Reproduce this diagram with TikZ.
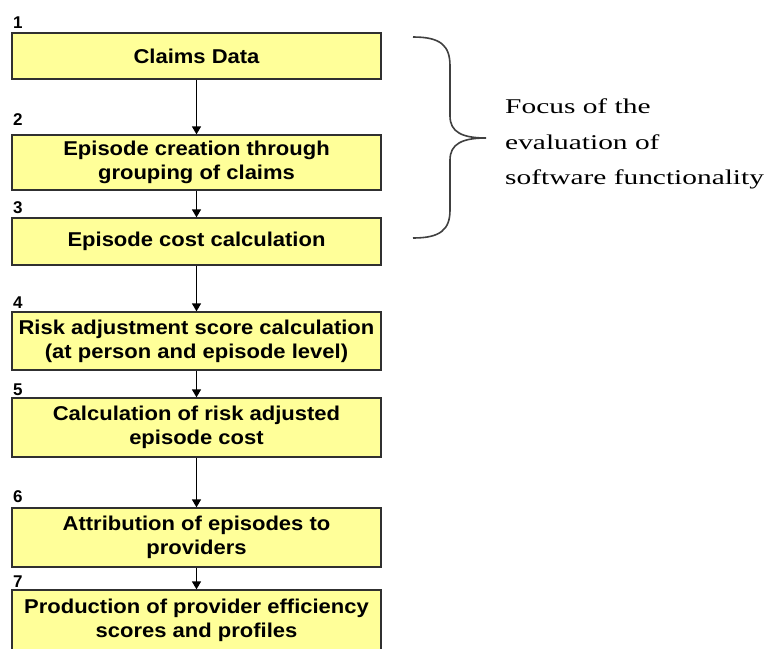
\documentclass[tikz,border=0pt]{standalone}
\usepackage{fontspec}
\setmainfont{Liberation Sans}
\newfontfamily\boxfont[FakeStretch=1.1]{Liberation Sans}
\newfontfamily\notefont[FakeStretch=1.4]{Liberation Serif}
\usetikzlibrary{arrows.meta}
\definecolor{boxfill}{HTML}{FFFF99}
\definecolor{boxline}{HTML}{303030}
\tikzset{
  stepbox/.style={draw=boxline, line width=1.3pt, fill=boxfill, minimum width=369pt,
    align=center, inner sep=0pt, font=\boxfont\bfseries\fontsize{20}{24}\selectfont},
  numlabel/.style={anchor=base west, inner sep=0pt, font=\bfseries\fontsize{17}{20}\selectfont},
  arr/.style={line width=1.5pt, -{Triangle[width=9pt,length=8pt]}},
  bracestyle/.style={line width=1.6pt, draw=black!75},
  note/.style={anchor=north west, align=left, inner sep=0pt, font=\notefont\fontsize{21}{35.5}\selectfont}
}
\begin{document}
\begin{tikzpicture}[x=1pt,y=-1pt]
\useasboundingbox (0,0) rectangle (773,648);
\node[stepbox, minimum height=46pt] (b1) at (196.5,56) {Claims Data};
\node[stepbox, minimum height=55pt] (b2) at (196.5,162.5) {Episode creation through\\grouping of claims};
\node[stepbox, minimum height=47pt] (b3) at (196.5,241.5) {Episode cost calculation};
\node[stepbox, minimum height=58pt] (b4) at (196.5,341) {Risk adjustment score calculation\\(at person and episode level)};
\node[stepbox, minimum height=59pt] (b5) at (196.5,427.5) {Calculation of risk adjusted\\episode cost};
\node[stepbox, minimum height=59pt] (b6) at (196.5,537.5) {Attribution of episodes to\\providers};
\node[stepbox, minimum height=60pt] (b7) at (196.5,620) {Production of provider efficiency\\scores and profiles};

\node[numlabel] (n1) at (13,28) {1};
\node[numlabel] (n2) at (13,125) {2};
\node[numlabel] (n3) at (13,213) {3};
\node[numlabel] (n4) at (13,308) {4};
\node[numlabel] (n5) at (13,395) {5};
\node[numlabel] (n6) at (13,502) {6};
\node[numlabel] (n7) at (13,587) {7};

\draw[arr] (b1) -- (b2);
\draw[arr] (b2) -- (b3);
\draw[arr] (b3) -- (b4);
\draw[arr] (b4) -- (b5);
\draw[arr] (b5) -- (b6);
\draw[arr] (b6) -- (b7);

\coordinate (btop) at (413,37);
\coordinate (btip) at (486,138);
\coordinate (bbot) at (413,238);
\draw[bracestyle] (btop) .. controls (440,37) and (450,45) .. (450,66) -- (450,116)
  .. controls (450,132) and (462,138) .. (btip)
  .. controls (462,138) and (450,144) .. (450,160) -- (450,210)
  .. controls (450,230) and (440,238) .. (bbot);

\node[note] (focus) at (505,99) {Focus of the\\evaluation of\\software functionality};
\end{tikzpicture}
\end{document}
